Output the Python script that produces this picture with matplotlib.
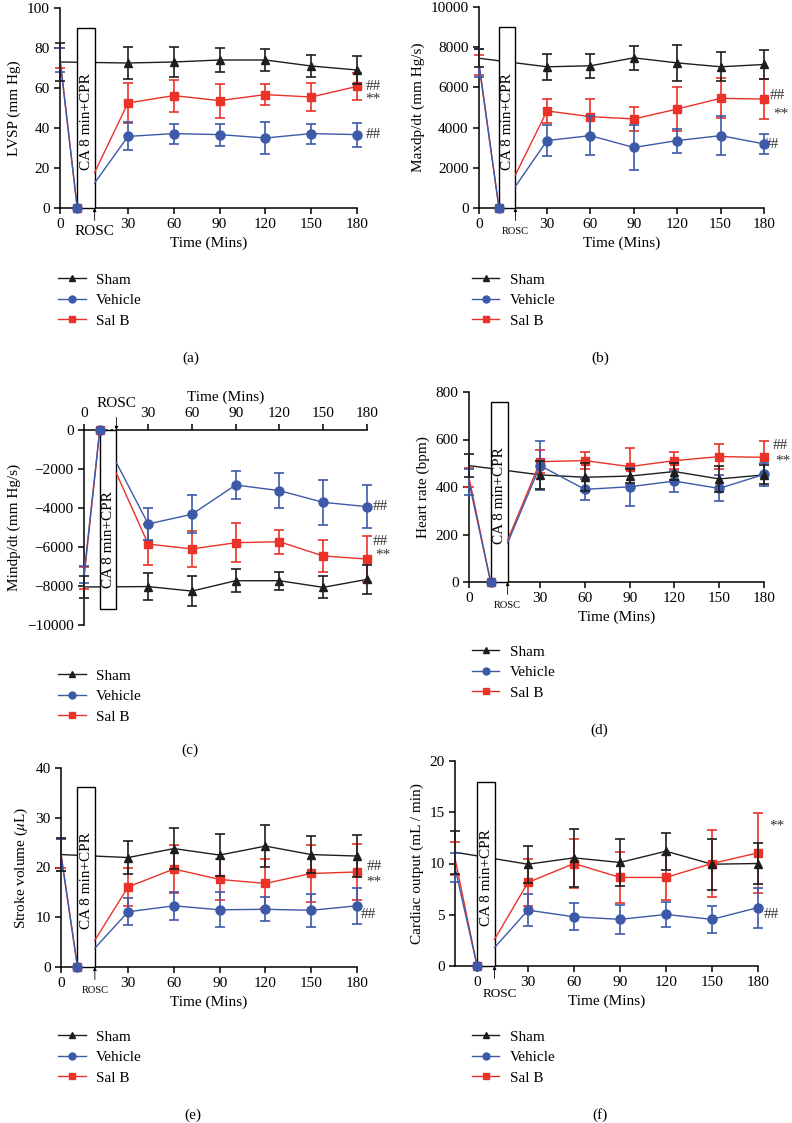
import matplotlib
matplotlib.use('Agg')
import matplotlib.pyplot as plt
from matplotlib.lines import Line2D
from matplotlib.patches import Rectangle

plt.rcParams['font.family'] = ['Liberation Serif', 'DejaVu Serif']
plt.rcParams['mathtext.fontset'] = 'stix'
plt.rcParams['font.size'] = 11
plt.rcParams['axes.linewidth'] = 1.1

# time points after ROSC (min); first value in every series list is baseline
minutes = [30, 60, 90, 120, 150, 180]
groups = ['Sham', 'Vehicle', 'Sal B']

# (a) LVSP (mm Hg)
lvsp_sham = [73, 72.5, 73, 74, 74, 71, 69]
lvsp_sham_sd = [9.5, 7.8, 7.5, 6, 5.7, 5.5, 7]
lvsp_veh = [74, 35.8, 37.2, 36.7, 35, 37.2, 36.7]
lvsp_veh_sd = [6, 7, 5, 5.5, 8, 5, 6]
lvsp_veh_rosc = 12.5
lvsp_salb = [75, 52.5, 56.2, 53.7, 56.7, 55.5, 60.8]
lvsp_salb_sd = [5, 10, 8, 8.5, 5.3, 7, 6.8]
lvsp_salb_rosc = 17.8
lvsp_marks = [('##', 61, 6), ('**', 54.5, 6), ('##', 36.7, 6)]

# (b) Maxdp/dt (mm Hg/s)
maxdp_sham = [7450, 7025, 7075, 7470, 7220, 7025, 7140]
maxdp_sham_sd = [450, 660, 590, 600, 900, 720, 720]
maxdp_veh = [7200, 3355, 3600, 3010, 3355, 3600, 3190]
maxdp_veh_sd = [700, 750, 980, 1130, 600, 970, 480]
maxdp_veh_rosc = 1075
maxdp_salb = [7100, 4830, 4545, 4430, 4925, 5455, 5420]
maxdp_salb_sd = [500, 600, 900, 580, 1100, 1000, 1000]
maxdp_salb_rosc = 1650
maxdp_marks = [('##', 5590, 4), ('**', 4660, 7), ('##', 3140, 0)]

# (c) Mindp/dt (mm Hg/s)
mindp_sham = [-8050, -8030, -8260, -7730, -7730, -8070, -7660]
mindp_sham_sd = [580, 700, 750, 590, 470, 570, 730]
mindp_veh = [-7400, -4820, -4320, -2820, -3110, -3710, -3930]
mindp_veh_sd = [450, 830, 970, 740, 880, 1170, 1110]
mindp_veh_rosc = -1675
mindp_salb = [-7600, -5850, -6100, -5780, -5730, -6460, -6620]
mindp_salb_sd = [550, 1050, 920, 1000, 620, 810, 1200]
mindp_salb_rosc = -2220
mindp_marks = [('##', -3930, 4), ('##', -5730, 4), ('**', -6410, 6)]

# (d) Heart rate (bpm)
hr_sham = [490, 451, 441, 446, 465, 434, 451]
hr_sham_sd = [49, 58, 58, 28, 35, 55, 40]
hr_veh = [420, 490, 390, 401, 425, 394, 453]
hr_veh_sd = [55, 102, 43, 80, 44, 55, 50]
hr_veh_rosc = 165
hr_salb = [440, 507, 511, 486, 511, 528, 525]
hr_salb_sd = [40, 47, 36, 78, 36, 52, 70]
hr_salb_rosc = 176
hr_marks = [('##', 573, 6), ('**', 511, 8)]

# (e) Stroke volume (uL)
sv_sham = [22.6, 22, 23.8, 22.5, 24.3, 22.6, 22.3]
sv_sham_sd = [3.3, 3.4, 4.2, 4.2, 4.2, 3.7, 4.2]
sv_veh = [22.5, 11.1, 12.3, 11.5, 11.6, 11.4, 12.3]
sv_veh_sd = [3.2, 2.7, 2.8, 3.5, 2.4, 3.3, 3.6]
sv_veh_rosc = 3.8
sv_salb = [22.8, 16.1, 19.7, 17.6, 16.8, 18.8, 19.1]
sv_salb_sd = [3.0, 3.8, 4.8, 4.2, 5.0, 5.8, 5.6]
sv_salb_rosc = 5.4
sv_marks = [('##', 20.3, 7), ('**', 17.1, 7), ('##', 10.6, 3)]

# (f) Cardiac output (mL/min)
co_sham = [11.1, 9.93, 10.55, 10.1, 11.2, 9.93, 10.0]
co_sham_sd = [2.1, 1.8, 2.85, 2.25, 1.8, 2.5, 2.0]
co_veh = [9.6, 5.45, 4.8, 4.55, 5.03, 4.55, 5.7]
co_veh_sd = [1.4, 1.55, 1.3, 1.4, 1.25, 1.3, 1.95]
co_veh_rosc = 1.8
co_salb = [10.5, 8.15, 10.0, 8.64, 8.64, 10.0, 11.04]
co_salb_sd = [1.6, 2.3, 2.4, 2.5, 2.2, 3.3, 3.9]
co_salb_rosc = 2.6
co_marks = [('**', 13.7, 8), ('##', 5.06, 4)]

# styles
colors = {'Sham': '#1e1e1e', 'Vehicle': '#3c5aa8', 'Sal B': '#ea3228'}
markers = {'Sham': '^', 'Vehicle': 'o', 'Sal B': 's'}
msizes = {'Sham': 6, 'Vehicle': 6.5, 'Sal B': 6}
CA_X = -3.2   # cardiac arrest point
ROSC_X = 8.2  # return of spontaneous circulation

W, H = 792, 1123
fig = plt.figure(figsize=(W / 100, H / 100), dpi=100)


def px_rect(l, t, r, b):
    return [l / W, 1 - b / H, (r - l) / W, (b - t) / H]


def panel(rect, xmin, data, ylim, ystep, ylabel, box_top, marks, rosc_fs,
          legend_xy, letter_xy, letter, zero_at_ca=False, top_axis=False,
          rosc_off=(0, -17)):
    ax = fig.add_axes(px_rect(*rect))
    # draw order: Sal B, Vehicle, Sham
    for name, z in (('Sal B', 3), ('Vehicle', 4), ('Sham', 5)):
        mean, sd, rosc = data[name]
        c = colors[name]
        xs = [xmin] + minutes
        ax.errorbar(xs, mean, yerr=sd, fmt='none', ecolor=c, elinewidth=1.2,
                    capsize=3.5, capthick=1.2, clip_on=False, zorder=z)
        if rosc is None:
            ax.plot(xs, mean, color=c, lw=1, zorder=1.5, clip_on=False)
            ax.plot(minutes, mean[1:], ls='none', marker=markers[name],
                    ms=msizes[name], color=c, clip_on=False, zorder=z + 0.5)
        else:
            ax.plot([xmin, CA_X], [mean[0], 0], color=c, lw=1, zorder=z, clip_on=False)
            ax.plot([ROSC_X] + minutes, [rosc] + mean[1:], color=c, lw=1, zorder=z)
            ax.plot([CA_X] + minutes, [0] + mean[1:], ls='none', marker=markers[name],
                    ms=msizes[name], color=c, clip_on=False, zorder=z + 0.5)

    ax.add_patch(Rectangle((CA_X, 0), ROSC_X - CA_X, box_top, facecolor='white',
                           edgecolor='black', lw=1, zorder=2, clip_on=False))
    ax.text((CA_X + ROSC_X) / 2 + 0.3, box_top * (0.61 if top_axis else 0.48),
            'CA 8 min+CPR', rotation=90, ha='center', va='center', zorder=2.5)

    ax.set_xlim(xmin, 180)
    ax.set_ylim(*ylim)
    ax.set_yticks(range(int(ylim[0]), int(ylim[1]) + 1, ystep))
    x0 = CA_X if zero_at_ca else xmin
    ax.set_xticks([x0] + minutes, ['0'] + [str(m) for m in minutes])
    ax.tick_params(direction='out', length=4, width=1.1)

    for s in ('top', 'right', 'bottom'):
        ax.spines[s].set_visible(False)
    # x axis line at zero, dotted during arrest
    ax.plot([xmin, CA_X], [0, 0], color='black', lw=1.1, clip_on=False, zorder=1)
    ax.plot([CA_X, ROSC_X], [0, 0], color='black', lw=1.1, ls=(0, (1.5, 2)), clip_on=False, zorder=1)
    ax.plot([ROSC_X, 180], [0, 0], color='black', lw=1.1, clip_on=False, zorder=1)

    if top_axis:
        ax.xaxis.tick_top()
        ax.xaxis.set_label_position('top')
    # ROSC arrow (vertical) and its label
    arrow_len = 9 if rosc_off[1] > 0 else -9
    ax.annotate('', xy=(ROSC_X, 0), xytext=(0, arrow_len), textcoords='offset points',
                arrowprops=dict(arrowstyle='-|>', lw=0.6, color='black',
                                mutation_scale=5, shrinkA=0, shrinkB=0))
    ax.annotate('ROSC', xy=(ROSC_X, 0), xytext=rosc_off, textcoords='offset points',
                ha='center', va='center', fontsize=rosc_fs)

    ax.set_xlabel('Time (Mins)')
    ax.set_ylabel(ylabel)

    for txt, y, dx in marks:
        ax.annotate(txt, xy=(180, y), xytext=(dx, 0), textcoords='offset points',
                    ha='left', va='center', fontsize=11, color='#333333')

    handles = [Line2D([], [], color=colors[g], marker=markers[g], ms=5, lw=1) for g in groups]
    ax.legend(handles, groups, loc='upper left',
              bbox_to_anchor=(legend_xy[0] / W, 1 - legend_xy[1] / H),
              bbox_transform=fig.transFigure, frameon=False, borderpad=0,
              borderaxespad=0, handlelength=1.8, handletextpad=0.7,
              labelspacing=0.45, fontsize=11)
    fig.text(letter_xy[0] / W, 1 - letter_xy[1] / H, letter, ha='center', va='center')
    return ax


panel((60, 8, 357, 208), -14.5,
      {'Sham': (lvsp_sham, lvsp_sham_sd, None),
       'Vehicle': (lvsp_veh, lvsp_veh_sd, lvsp_veh_rosc),
       'Sal B': (lvsp_salb, lvsp_salb_sd, lvsp_salb_rosc)},
      (0, 100), 20, 'LVSP (mm Hg)', 90, lvsp_marks, 11,
      (58, 273), (191, 358), '(a)')

panel((479, 7, 764, 208), -17,
      {'Sham': (maxdp_sham, maxdp_sham_sd, None),
       'Vehicle': (maxdp_veh, maxdp_veh_sd, maxdp_veh_rosc),
       'Sal B': (maxdp_salb, maxdp_salb_sd, maxdp_salb_rosc)},
      (0, 10000), 2000, 'Maxdp/dt (mm Hg/s)', 9000, maxdp_marks, 7.5,
      (472, 273), (600, 358), '(b)')

panel((84, 430, 367, 625), -14,
      {'Sham': (mindp_sham, mindp_sham_sd, None),
       'Vehicle': (mindp_veh, mindp_veh_sd, mindp_veh_rosc),
       'Sal B': (mindp_salb, mindp_salb_sd, mindp_salb_rosc)},
      (-10000, 0), 2000, 'Mindp/dt (mm Hg/s)', -9200, mindp_marks, 11,
      (58, 669), (190, 750), '(c)', top_axis=True, rosc_off=(0, 19))

panel((469, 392, 764, 582), -17.7,
      {'Sham': (hr_sham, hr_sham_sd, None),
       'Vehicle': (hr_veh, hr_veh_sd, hr_veh_rosc),
       'Sal B': (hr_salb, hr_salb_sd, hr_salb_rosc)},
      (0, 800), 200, 'Heart rate (bpm)', 760, hr_marks, 7.5,
      (472, 645), (599, 730), '(d)')

panel((61, 768, 357, 967), -14,
      {'Sham': (sv_sham, sv_sham_sd, None),
       'Vehicle': (sv_veh, sv_veh_sd, sv_veh_rosc),
       'Sal B': (sv_salb, sv_salb_sd, sv_salb_rosc)},
      (0, 40), 10, r'Stroke volume ($\mu$L)', 36.2, sv_marks, 7.5,
      (58, 1030), (193, 1115), '(e)')

panel((455, 761, 758, 966), -17.6,
      {'Sham': (co_sham, co_sham_sd, None),
       'Vehicle': (co_veh, co_veh_sd, co_veh_rosc),
       'Sal B': (co_salb, co_salb_sd, co_salb_rosc)},
      (0, 20), 5, 'Cardiac output (mL / min)', 18, co_marks, 9.5,
      (472, 1030), (600, 1115), '(f)', zero_at_ca=True, rosc_off=(4, -20))

fig.savefig('out.png', dpi=100)
